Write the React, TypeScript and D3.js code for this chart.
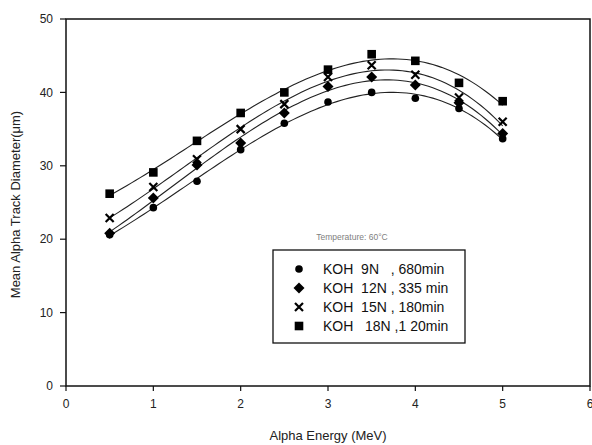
import React from "react";
import * as d3 from "d3";

const energies = [0.5, 1, 1.5, 2, 2.5, 3, 3.5, 4, 4.5, 5];
const koh9N = [20.6, 24.3, 27.9, 32.2, 35.8, 38.7, 40.0, 39.2, 37.8, 33.7];
const koh12N = [20.8, 25.6, 30.1, 33.1, 37.2, 40.8, 42.1, 41.0, 38.6, 34.4];
const koh15N = [22.9, 27.1, 30.9, 35.0, 38.4, 42.1, 43.7, 42.4, 39.3, 36.0];
const koh18N = [26.2, 29.1, 33.4, 37.2, 40.0, 43.1, 45.2, 44.3, 41.3, 38.8];
const seriesLabels = [
  "KOH  9N   , 680min",
  "KOH  12N , 335 min",
  "KOH  15N , 180min",
  "KOH   18N ,1 20min",
];
const seriesShapes = ["circle", "diamond", "x", "square"];
const xTicks = [0, 1, 2, 3, 4, 5, 6];
const yTicks = [0, 10, 20, 30, 40, 50];

const FONT = "Arial, 'Liberation Sans', sans-serif";

function polyFit(xs: number[], ys: number[], deg: number): number[] {
  const n = deg + 1;
  const A: number[][] = Array.from({ length: n }, () => new Array(n + 1).fill(0));
  for (let r = 0; r < n; r++) {
    for (let c = 0; c < n; c++) {
      A[r][c] = d3.sum(xs, (x) => Math.pow(x, r + c));
    }
    A[r][n] = d3.sum(xs, (x, i) => Math.pow(x, r) * ys[i]);
  }
  for (let i = 0; i < n; i++) {
    let p = i;
    for (let k = i + 1; k < n; k++) if (Math.abs(A[k][i]) > Math.abs(A[p][i])) p = k;
    [A[i], A[p]] = [A[p], A[i]];
    for (let k = i + 1; k < n; k++) {
      const f = A[k][i] / A[i][i];
      for (let c = i; c <= n; c++) A[k][c] -= f * A[i][c];
    }
  }
  const coef = new Array(n).fill(0);
  for (let i = n - 1; i >= 0; i--) {
    let s = A[i][n];
    for (let c = i + 1; c < n; c++) s -= A[i][c] * coef[c];
    coef[i] = s / A[i][i];
  }
  return coef;
}

function Marker({ shape, x, y }: { shape: string; x: number; y: number }) {
  if (shape === "circle") return <circle cx={x} cy={y} r={3.8} fill="#000" />;
  if (shape === "diamond")
    return <path d={`M${x},${y - 5.5}L${x + 5.5},${y}L${x},${y + 5.5}L${x - 5.5},${y}Z`} fill="#000" />;
  if (shape === "square") return <rect x={x - 4.3} y={y - 4.3} width={8.6} height={8.6} fill="#000" />;
  return (
    <path
      d={`M${x - 4},${y - 4}L${x + 4},${y + 4}M${x + 4},${y - 4}L${x - 4},${y + 4}`}
      stroke="#000"
      strokeWidth={2.2}
    />
  );
}

export default function App() {
  const W = 592, H = 445;
  const left = 66, right = 590, top = 19, bottom = 386;
  const x = d3.scaleLinear().domain([0, 6]).range([left, right]);
  const y = d3.scaleLinear().domain([0, 50]).range([bottom, top]);
  const series = [koh9N, koh12N, koh15N, koh18N];
  const samples = d3.range(0.5, 5.0001, 0.05);
  const line = d3
    .line<[number, number]>()
    .x((d) => x(d[0]))
    .y((d) => y(d[1]));

  const legendX = 273, legendY = 250, legendW = 192, legendH = 93;

  return (
    <svg width={W} height={H} style={{ position: "absolute", left: 0, top: 0, background: "#fff" }} fontFamily={FONT}>
      <rect x={0} y={0} width={W} height={H} fill="#fff" />
      {series.map((vals, i) => {
        const c = polyFit(energies, vals, 3);
        const pts: [number, number][] = samples.map((e) => [e, c[0] + c[1] * e + c[2] * e * e + c[3] * e * e * e]);
        return <path key={"l" + i} d={line(pts) || ""} fill="none" stroke="#222" strokeWidth={1.1} />;
      })}
      {series.map((vals, i) =>
        vals.map((v, j) => <Marker key={`m${i}-${j}`} shape={seriesShapes[i]} x={x(energies[j])} y={y(v)} />)
      )}
      <rect x={left} y={top} width={right - left} height={bottom - top} fill="none" stroke="#111" strokeWidth={1.5} />
      {yTicks.map((t) => (
        <g key={"y" + t}>
          <line x1={left - 6} x2={left} y1={y(t)} y2={y(t)} stroke="#111" strokeWidth={1.2} />
          <text x={left - 13} y={y(t)} dy="0.35em" textAnchor="end" fontSize={12} fill="#222">
            {t}
          </text>
        </g>
      ))}
      {xTicks.map((t) => (
        <g key={"x" + t}>
          <line x1={x(t)} x2={x(t)} y1={bottom} y2={bottom + 5} stroke="#111" strokeWidth={1.2} />
          <text x={x(t)} y={bottom + 22} textAnchor="middle" fontSize={12} fill="#222">
            {t}
          </text>
        </g>
      ))}
      <text x={328} y={440} textAnchor="middle" fontSize={13} fill="#222">
        Alpha Energy (MeV)
      </text>
      <text transform={`translate(20,${(top + bottom) / 2 + 2}) rotate(-90)`} textAnchor="middle" fontSize={13} fill="#222">
        Mean Alpha Track Diameter(μm)
      </text>
      <text x={352} y={240} textAnchor="middle" fontSize={8.5} fill="#808080">
        Temperature: 60°C
      </text>
      <rect x={legendX} y={legendY} width={legendW} height={legendH} fill="#fff" stroke="#111" strokeWidth={1.3} />
      {seriesLabels.map((lab, i) => {
        const ry = legendY + 19 + i * 19;
        return (
          <g key={"lg" + i}>
            <Marker shape={seriesShapes[i]} x={legendX + 26} y={ry} />
            <text x={legendX + 50} y={ry} dy="0.36em" fontSize={14} fill="#111" style={{ whiteSpace: "pre" }}>
              {lab}
            </text>
          </g>
        );
      })}
    </svg>
  );
}
